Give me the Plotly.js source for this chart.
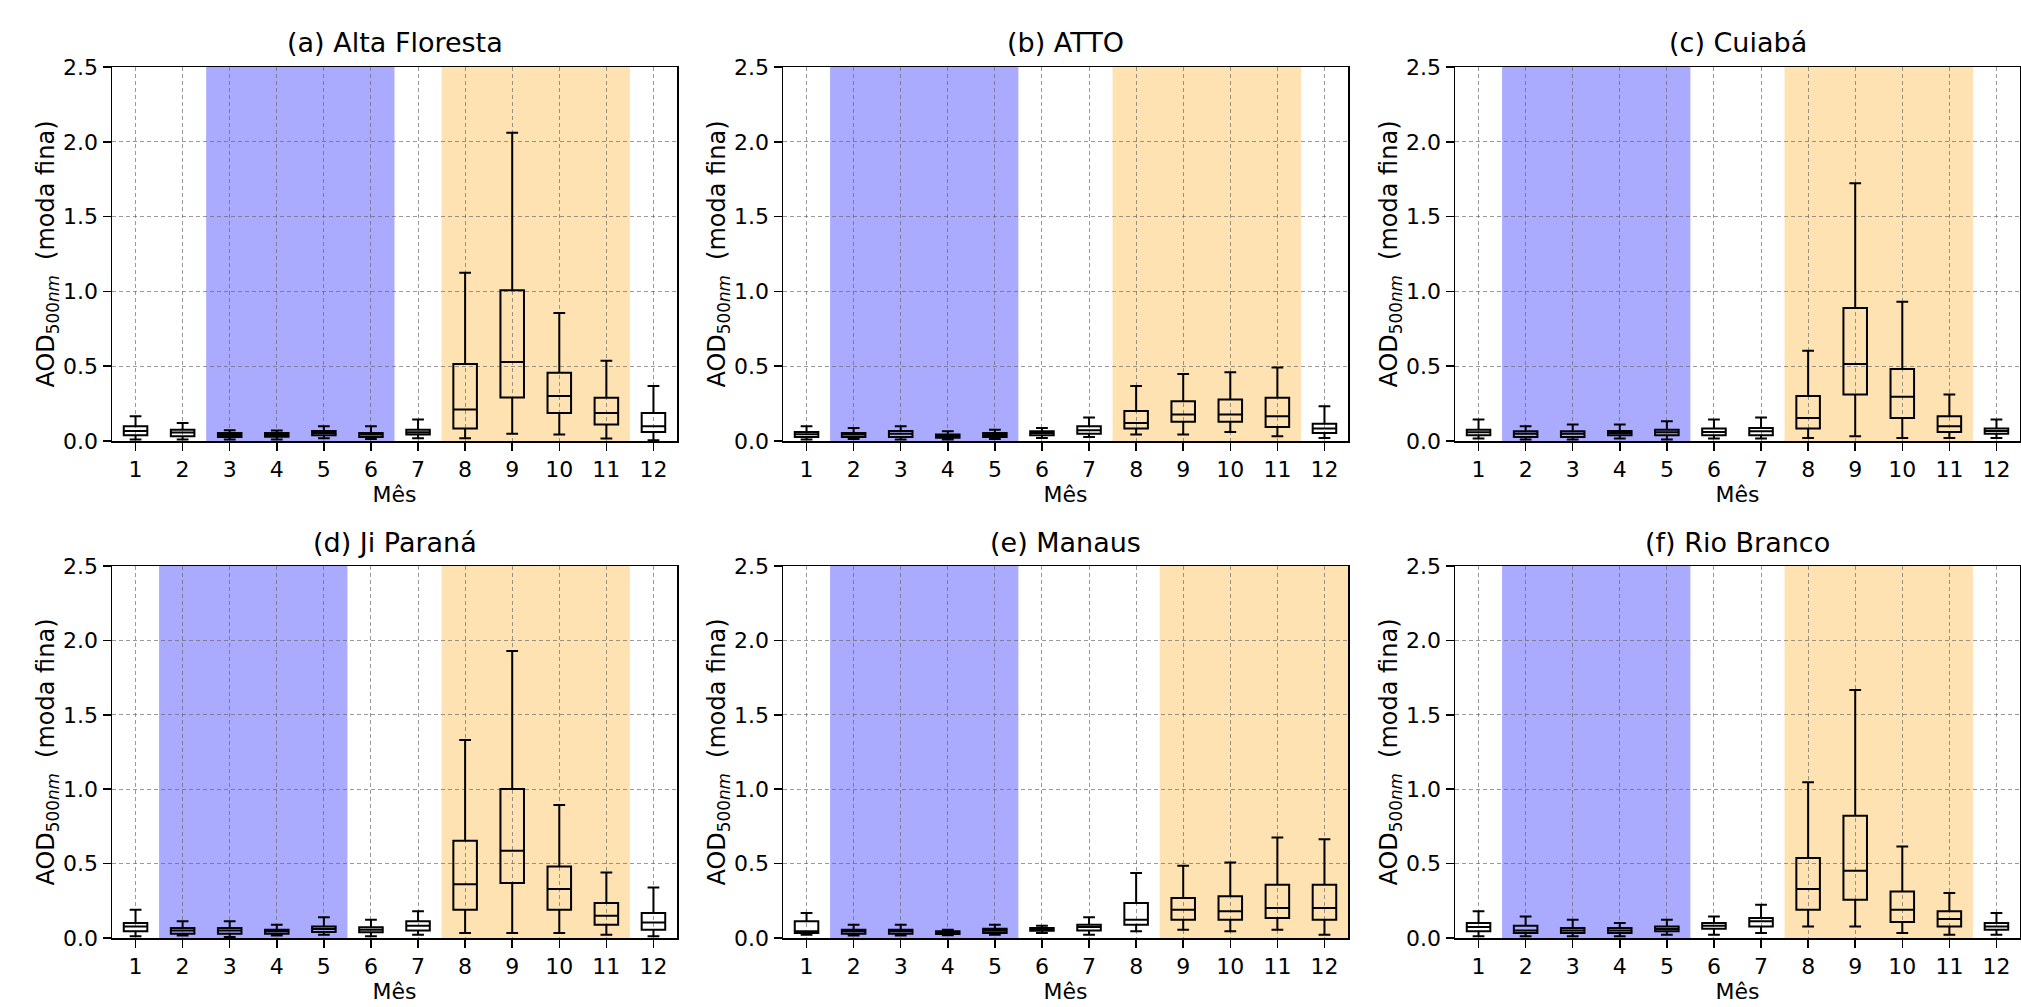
<!DOCTYPE html>
<html>
<head>
<meta charset="utf-8">
<script src="https://cdn.plot.ly/plotly-3.0.1.min.js"></script>
<style>html,body{margin:0;padding:0;background:#fff;}#chart{width:2021px;height:1007px;}</style>
</head>
<body>
<div id="chart"></div>
<script>
// Months (x categories)
const months = [1,2,3,4,5,6,7,8,9,10,11,12];
const monthLabels = ['1','2','3','4','5','6','7','8','9','10','11','12'];
const yTicks = [0, 0.5, 1.0, 1.5, 2.0, 2.5];

// Panel titles
const titles = ['(a) Alta Floresta', '(b) ATTO', '(c) Cuiabá', '(d) Ji Paraná', '(e) Manaus', '(f) Rio Branco'];

// Season bands (month ranges): wet (blue) and burning (orange)
const wetBands  = [[2.5, 6.5], [1.5, 5.5], [1.5, 5.5], [1.5, 5.5], [1.5, 5.5], [1.5, 5.5]];
const fireBands = [[7.5, 11.5], [7.5, 11.5], [7.5, 11.5], [7.5, 11.5], [8.5, 12.5], [7.5, 11.5]];

// (a) Alta Floresta
const altaLo  = [0.01, 0.01, 0.01, 0.01, 0.018, 0.013, 0.018, 0.018, 0.049, 0.043, 0.016, 0.005];
const altaQ1  = [0.038, 0.031, 0.027, 0.028, 0.038, 0.027, 0.043, 0.083, 0.291, 0.188, 0.11, 0.06];
const altaMed = [0.067, 0.056, 0.04, 0.04, 0.054, 0.043, 0.058, 0.21, 0.528, 0.30, 0.188, 0.098];
const altaQ3  = [0.098, 0.076, 0.054, 0.053, 0.067, 0.054, 0.076, 0.515, 1.007, 0.457, 0.289, 0.188];
const altaHi  = [0.166, 0.12, 0.072, 0.07, 0.098, 0.098, 0.143, 1.124, 2.06, 0.855, 0.537, 0.367];

// (b) ATTO
const attoLo  = [0.01, 0.013, 0.01, 0.01, 0.013, 0.02, 0.027, 0.043, 0.043, 0.06, 0.031, 0.02];
const attoQ1  = [0.027, 0.027, 0.027, 0.022, 0.027, 0.038, 0.049, 0.083, 0.128, 0.128, 0.094, 0.054];
const attoMed = [0.045, 0.043, 0.049, 0.034, 0.04, 0.054, 0.072, 0.12, 0.177, 0.177, 0.166, 0.083];
const attoQ3  = [0.06, 0.054, 0.067, 0.043, 0.054, 0.065, 0.098, 0.20, 0.266, 0.278, 0.289, 0.116];
const attoHi  = [0.098, 0.087, 0.098, 0.065, 0.076, 0.087, 0.157, 0.367, 0.448, 0.459, 0.492, 0.233];

// (c) Cuiabá
const cuiaLo  = [0.016, 0.01, 0.01, 0.016, 0.01, 0.016, 0.016, 0.02, 0.031, 0.02, 0.02, 0.02];
const cuiaQ1  = [0.038, 0.027, 0.027, 0.038, 0.038, 0.038, 0.038, 0.083, 0.311, 0.154, 0.06, 0.049];
const cuiaMed = [0.058, 0.049, 0.049, 0.054, 0.058, 0.06, 0.065, 0.154, 0.515, 0.295, 0.098, 0.067];
const cuiaQ3  = [0.076, 0.065, 0.065, 0.067, 0.076, 0.083, 0.087, 0.30, 0.889, 0.481, 0.166, 0.083];
const cuiaHi  = [0.143, 0.098, 0.11, 0.11, 0.132, 0.143, 0.157, 0.604, 1.723, 0.931, 0.311, 0.143];

// (d) Ji Paraná
const jiLo  = [0.011, 0.016, 0.007, 0.016, 0.022, 0.011, 0.022, 0.034, 0.034, 0.034, 0.022, 0.011];
const jiQ1  = [0.045, 0.029, 0.029, 0.029, 0.04, 0.038, 0.051, 0.19, 0.369, 0.19, 0.089, 0.056];
const jiMed = [0.078, 0.051, 0.051, 0.045, 0.06, 0.056, 0.083, 0.362, 0.586, 0.329, 0.15, 0.105];
const jiQ3  = [0.10, 0.067, 0.067, 0.056, 0.078, 0.072, 0.112, 0.653, 1.002, 0.481, 0.235, 0.168];
const jiHi  = [0.19, 0.112, 0.112, 0.089, 0.139, 0.123, 0.179, 1.33, 1.928, 0.894, 0.44, 0.34];

// (e) Manaus
const manLo  = [0.022, 0.016, 0.016, 0.018, 0.022, 0.034, 0.022, 0.045, 0.056, 0.045, 0.056, 0.022];
const manQ1  = [0.034, 0.029, 0.029, 0.027, 0.034, 0.049, 0.051, 0.089, 0.123, 0.123, 0.134, 0.123];
const manMed = [0.045, 0.045, 0.045, 0.034, 0.049, 0.056, 0.074, 0.123, 0.19, 0.179, 0.201, 0.201];
const manQ3  = [0.112, 0.056, 0.056, 0.045, 0.063, 0.067, 0.089, 0.235, 0.268, 0.28, 0.358, 0.358];
const manHi  = [0.168, 0.089, 0.089, 0.056, 0.089, 0.083, 0.139, 0.436, 0.485, 0.508, 0.675, 0.664];

// (f) Rio Branco
const rioLo  = [0.011, 0.011, 0.011, 0.011, 0.022, 0.022, 0.034, 0.078, 0.078, 0.034, 0.022, 0.022];
const rioQ1  = [0.045, 0.034, 0.034, 0.034, 0.045, 0.063, 0.078, 0.19, 0.257, 0.107, 0.078, 0.056];
const rioMed = [0.074, 0.051, 0.051, 0.051, 0.06, 0.083, 0.112, 0.329, 0.452, 0.19, 0.127, 0.078];
const rioQ3  = [0.10, 0.083, 0.067, 0.067, 0.078, 0.10, 0.134, 0.537, 0.821, 0.313, 0.179, 0.10];
const rioHi  = [0.179, 0.145, 0.123, 0.10, 0.123, 0.145, 0.224, 1.047, 1.666, 0.615, 0.302, 0.168];

const stations = [
  [altaLo, altaQ1, altaMed, altaQ3, altaHi],
  [attoLo, attoQ1, attoMed, attoQ3, attoHi],
  [cuiaLo, cuiaQ1, cuiaMed, cuiaQ3, cuiaHi],
  [jiLo, jiQ1, jiMed, jiQ3, jiHi],
  [manLo, manQ1, manMed, manQ3, manHi],
  [rioLo, rioQ1, rioMed, rioQ3, rioHi]
];

const W = 2021, H = 1007;
const colsPx = [[112, 677], [783, 1348], [1455, 2020]];
const rowsPx = [[67, 441], [566, 938]];

const FONT = 'DejaVu Sans, Liberation Sans, sans-serif';
const traces = [];
const shapes = [];
const annotations = [];
const layout = {
  width: W, height: H,
  margin: {l: 0, r: 0, t: 0, b: 0},
  paper_bgcolor: '#ffffff',
  plot_bgcolor: '#ffffff',
  showlegend: false,
  font: {family: FONT, color: '#000000', size: 22}
};

stations.forEach((st, i) => {
  const r = Math.floor(i / 3), c = i % 3;
  const n = i + 1;
  const xa = 'x' + (n === 1 ? '' : n), ya = 'y' + (n === 1 ? '' : n);
  const xk = 'xaxis' + (n === 1 ? '' : n), yk = 'yaxis' + (n === 1 ? '' : n);
  const xd = [colsPx[c][0] / W, colsPx[c][1] / W];
  const yd = [1 - rowsPx[r][1] / H, 1 - rowsPx[r][0] / H];

  traces.push({
    type: 'box', xaxis: xa, yaxis: ya,
    x: months,
    lowerfence: st[0], q1: st[1], median: st[2], q3: st[3], upperfence: st[4],
    boxpoints: false,
    width: 0.5,
    whiskerwidth: 0.5,
    fillcolor: 'rgba(0,0,0,0)',
    line: {color: '#000000', width: 2},
    hoverinfo: 'skip'
  });

  layout[xk] = {
    domain: xd, anchor: ya,
    range: [0.5, 12.5],
    tickmode: 'array', tickvals: months, ticktext: monthLabels,
    showline: true, mirror: true, linecolor: '#000000', linewidth: 1.5,
    ticks: 'outside', ticklen: 8, tickwidth: 1.5, tickcolor: '#000000',
    showgrid: true, gridcolor: 'rgba(100,100,100,0.65)', gridwidth: 1, griddash: '4px,3px',
    zeroline: false,
    tickfont: {size: 22, family: FONT, color: '#000000'},
    title: {text: 'Mês', font: {size: 22, family: FONT, color: '#000000'}, standoff: 4}
  };
  layout[yk] = {
    domain: yd, anchor: xa,
    range: [0, 2.5],
    tickmode: 'array', tickvals: yTicks, ticktext: yTicks.map(v => v.toFixed(1)),
    showline: true, mirror: true, linecolor: '#000000', linewidth: 1.5,
    ticks: 'outside', ticklen: 8, tickwidth: 1.5, tickcolor: '#000000',
    showgrid: true, gridcolor: 'rgba(100,100,100,0.65)', gridwidth: 1, griddash: '4px,3px',
    zeroline: false,
    tickfont: {size: 22, family: FONT, color: '#000000'},
    title: {text: 'AOD<sub>500<i>nm</i></sub>  (moda fina)', font: {size: 24, family: FONT, color: '#000000'}, standoff: 0}
  };

  shapes.push({
    type: 'rect', xref: xa, yref: ya + ' domain',
    x0: wetBands[i][0], x1: wetBands[i][1], y0: 0, y1: 1,
    fillcolor: 'rgb(170,170,255)', line: {width: 0}, layer: 'below'
  });
  shapes.push({
    type: 'rect', xref: xa, yref: ya + ' domain',
    x0: fireBands[i][0], x1: fireBands[i][1], y0: 0, y1: 1,
    fillcolor: 'rgb(254,226,178)', line: {width: 0}, layer: 'below'
  });

  annotations.push({
    text: titles[i], xref: 'paper', yref: 'paper',
    x: (xd[0] + xd[1]) / 2, y: yd[1],
    xanchor: 'center', yanchor: 'middle', yshift: 24,
    showarrow: false,
    font: {size: 27, family: FONT, color: '#000000'}
  });
});

layout.shapes = shapes;
layout.annotations = annotations;

Plotly.newPlot('chart', traces, layout, {displayModeBar: false, staticPlot: true});
</script>
</body>
</html>
